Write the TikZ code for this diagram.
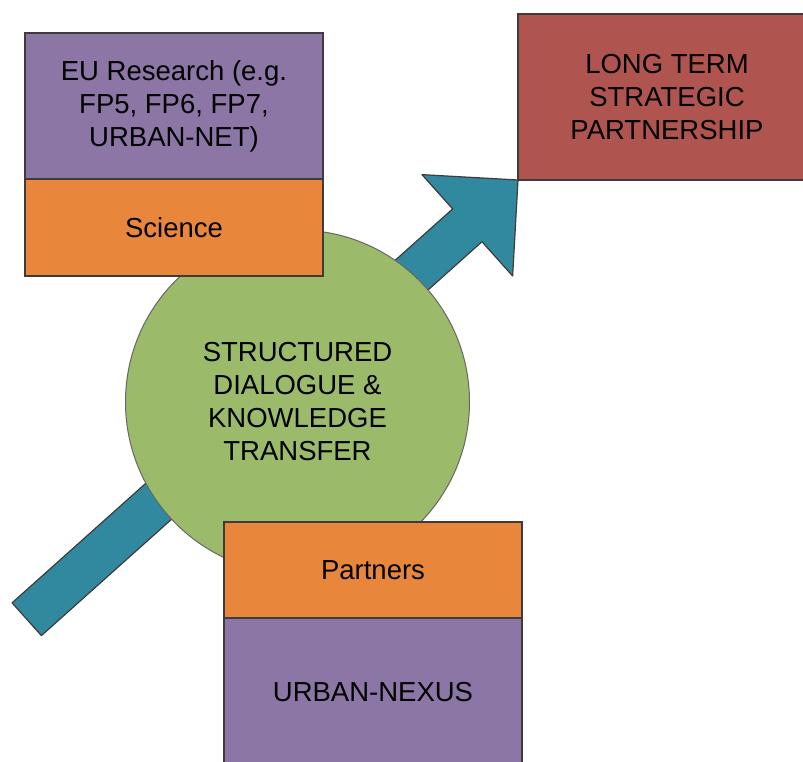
\documentclass[tikz,border=0pt]{standalone}
\usepackage{fontspec}
\setmainfont{Liberation Sans}
\usetikzlibrary{positioning}
\definecolor{boxpurple}{RGB}{139,118,165}
\definecolor{boxorange}{RGB}{232,135,60}
\definecolor{boxred}{RGB}{176,84,80}
\definecolor{discgreen}{RGB}{156,187,106}
\definecolor{arrowteal}{RGB}{49,137,160}
\definecolor{edgegray}{RGB}{64,58,58}
\begin{document}
\begin{tikzpicture}[x=1pt,y=1pt]
  \tikzstyle{every node}+=[inner sep=0pt, outer sep=0pt, align=center, font=\fontsize{27.5}{33}\selectfont]
  \tikzstyle{block}=[draw=edgegray, line width=1.5pt, minimum width=298pt, anchor=north west]
  \useasboundingbox (0,0) rectangle (803,-762);
  \coordinate (tip) at (518,-180);
  \begin{scope}[shift={(tip)}, rotate=41.8]
    \filldraw [arrowteal, draw=edgegray, line width=1.2pt, line join=round] (0,0) -- (-68,68) -- (-68,22) -- (-659,22) -- (-659,-22) -- (-68,-22) -- (-68,-68) -- cycle;
  \end{scope}
  \node [circle, fill=discgreen, draw=black!60, line width=1pt, minimum size=344pt] (dialogue) at (297.5,-402) {STRUCTURED\\DIALOGUE \&\\KNOWLEDGE\\TRANSFER};
  \node [block, fill=boxpurple, minimum height=146pt] (eu) at (25,-33) {EU Research (e.g.\\FP5, FP6, FP7,\\URBAN-NET)};
  \node [block, fill=boxorange, minimum height=97pt, below=0pt of eu] (science) {Science};
  \node [block, fill=boxorange, minimum height=96pt] (partners) at (224,-522) {Partners};
  \node [block, fill=boxpurple, minimum height=148pt, below=0pt of partners] (nexus) {URBAN-NEXUS};
  \node [block, fill=boxred, minimum height=166pt, anchor=south west] (goal) at (tip) {LONG TERM\\STRATEGIC\\PARTNERSHIP};
\end{tikzpicture}
\end{document}
